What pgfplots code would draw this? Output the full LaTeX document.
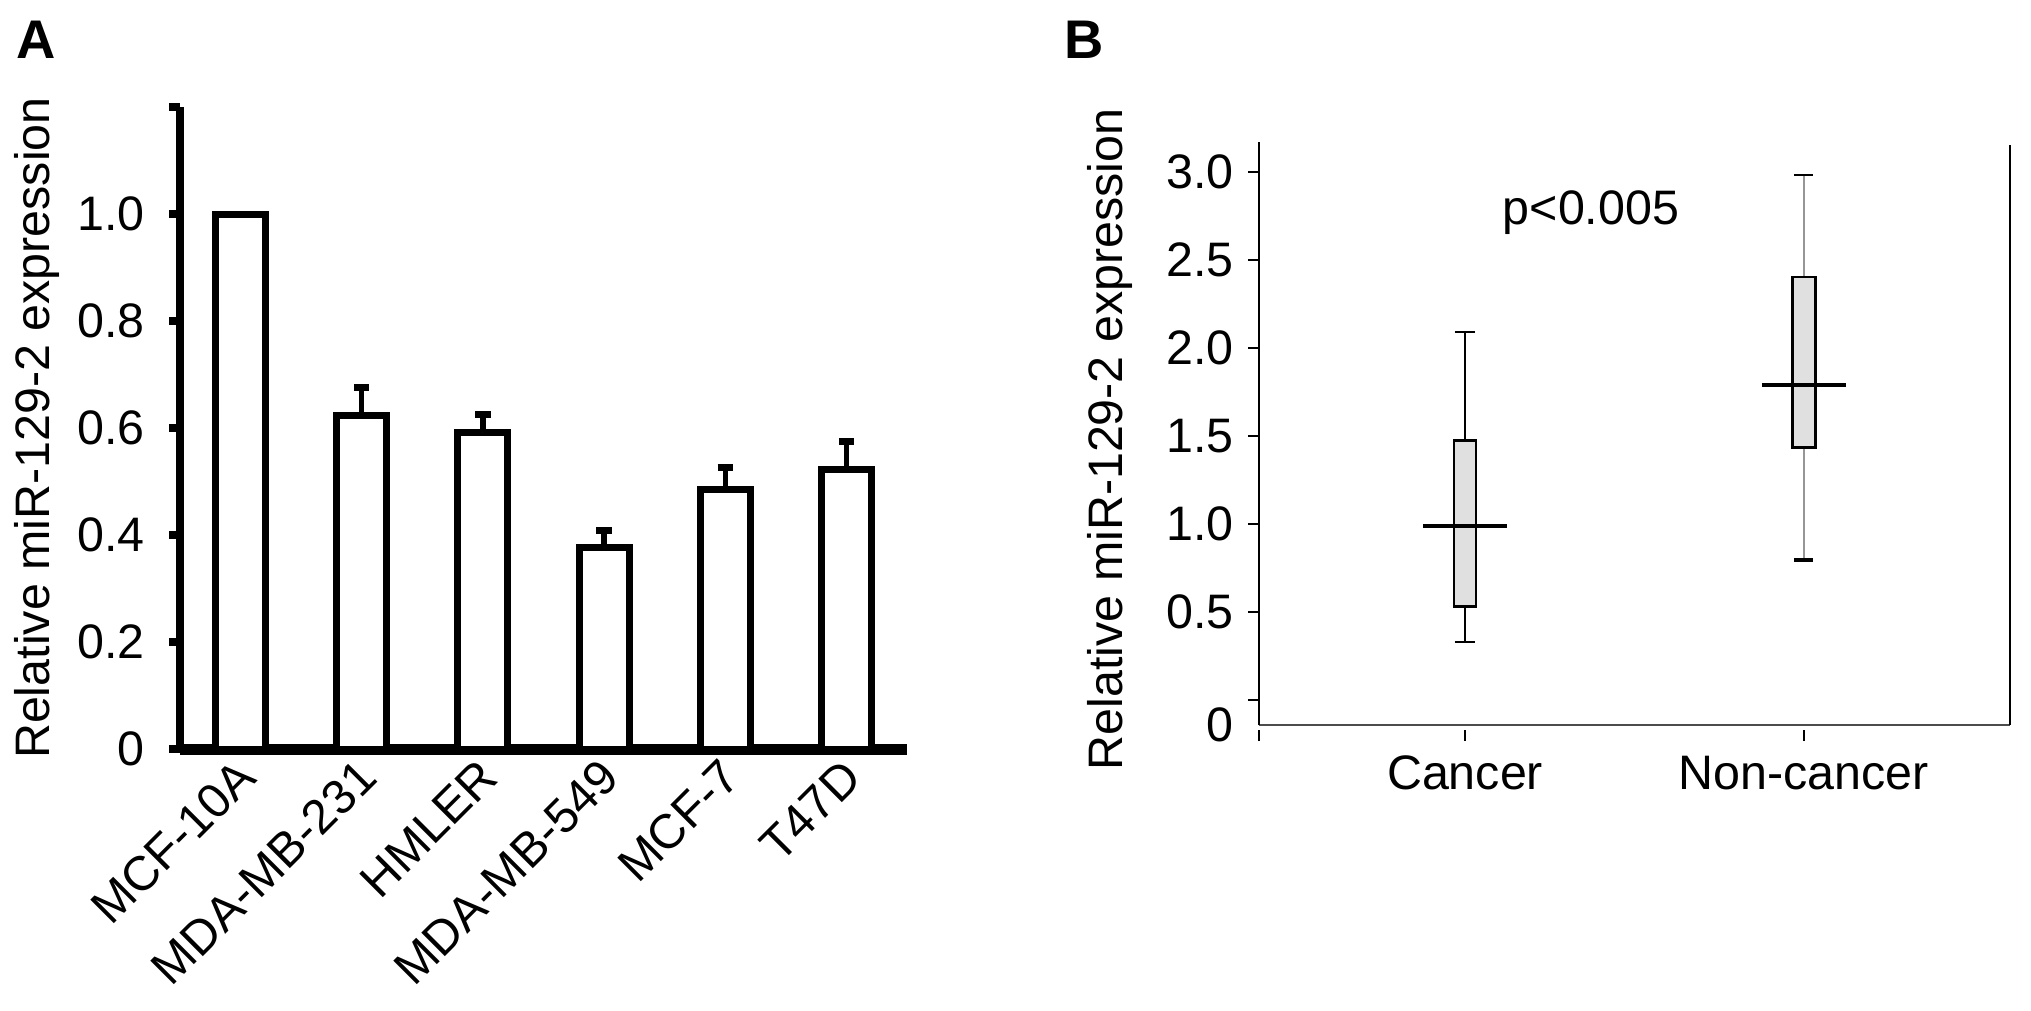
\documentclass[border=0pt]{standalone}
\usepackage{pgfplots}
\pgfplotsset{compat=1.18}
\usepgfplotslibrary{statistics}
\usepackage{fontspec}
\setmainfont{Liberation Sans}
\definecolor{boxgray}{RGB}{224,224,224}
\definecolor{whgray}{RGB}{150,150,150}

\pgfplotstableread{
x y e
0 1.000 0.000
1 0.623 0.052
2 0.592 0.033
3 0.377 0.032
4 0.486 0.040
5 0.522 0.052
}\barsA

\begin{document}
\begin{tikzpicture}
\useasboundingbox (0,0) rectangle (507.75pt,252.5pt);
\fill[white] (0,0) rectangle (507.75pt,252.5pt);

% ---------------- Panel A ----------------
\begin{axis}[
  at={(45pt,65.25pt)}, anchor=south west,
  scale only axis, width=181.75pt, height=160.5pt,
  xmin=-0.5, xmax=5.5, ymin=0, ymax=1.2,
  axis x line=bottom, axis y line=left,
  x axis line style={-, line width=2.75pt},
  y axis line style={-, line width=2pt},
  tick align=outside, major tick length=2.75pt,
  ytick={0,0.2,0.4,0.6,0.8,1.0,1.2},
  yticklabels={0,0.2,0.4,0.6,0.8,1.0,},
  yticklabel style={xshift=-2.5pt},
  ytick style={line width=2pt, black},
  xtick={0,1,2,3,4,5},
  xticklabels={MCF-10A,MDA-MB-231,HMLER,MDA-MB-549,MCF-7,T47D},
  xtick style={draw=none},
  xticklabel style={rotate=45, anchor=east, xshift=3pt, yshift=-2.5pt},
  font=\fontsize{12.1}{14.5}\selectfont,
  ylabel={Relative miR-129-2 expression},
  ylabel style={at={(axis description cs:-0.179,0.5)}, anchor=base},
  clip=false,
]
\addplot[ybar, bar width=12.5pt, draw=black, fill=white, line width=1.75pt,
  error bars/.cd, y dir=plus, y explicit, error mark=|,
  error bar style={line width=1.3pt},
  error mark options={line width=1.75pt, mark size=1.9pt}]
  table[x=x, y=y, y error=e] {\barsA};
\end{axis}

% ---------------- Panel B ----------------
\begin{axis}[
  at={(314.75pt,71.25pt)}, anchor=south west,
  scale only axis, width=187.75pt, height=145.75pt,
  xmin=0.392, xmax=2.608, ymin=-0.142, ymax=3.17,
  axis x line=bottom, axis y line=left,
  axis line style={-, line width=0.5pt},
  x axis line style={black!70},
  tick align=outside, major tick length=2.75pt,
  ytick={0,0.5,1,1.5,2,2.5,3},
  yticklabels={,0.5,1.0,1.5,2.0,2.5,3.0},
  ytick style={line width=0.5pt, black},
  extra y ticks={-0.142}, extra y tick labels={0},
  extra y tick style={tick style={draw=none}},
  xtick={1,2}, xticklabels={Cancer,Non-cancer},
  xtick style={line width=0.6pt, black, yshift=-1.25pt},
  xticklabel style={yshift=-1.5pt},
  extra x ticks={0.392}, extra x tick labels={},
  extra x tick style={tick style={yshift=0pt}},
  font=\fontsize{12.1}{14.5}\selectfont,
  ylabel={Relative miR-129-2 expression},
  ylabel style={at={(axis description cs:-0.1824,0.49)}, anchor=base},
  clip=false,
  boxplot/draw direction=y,
]
\addplot[boxplot prepared={lower whisker=0.33, lower quartile=0.531,
    median=0.99, upper quartile=1.473, upper whisker=2.089,
    draw position=1, box extend=0.065, whisker extend=0.06,
    draw direction=y,
    every median/.style={draw=none},
    every whisker/.style={black, line width=0.6pt}},
  draw=black, fill=boxgray, line width=0.65pt] coordinates {};
\addplot[boxplot prepared={lower whisker=0.797, lower quartile=1.435,
    median=1.79, upper quartile=2.403, upper whisker=2.985,
    draw position=2, box extend=0.068, whisker extend=0,
    draw direction=y,
    every median/.style={draw=none},
    every whisker/.style={whgray, line width=0.4pt}},
  draw=black, fill=boxgray, line width=0.65pt] coordinates {};
% whisker caps of Non-cancer
\addplot[black, line width=0.5pt] coordinates {(1.972,2.985) (2.028,2.985)};
\addplot[black, line width=1.1pt] coordinates {(1.972,0.797) (2.028,0.797)};
% medians
\addplot[black, line width=0.9pt] coordinates {(0.876,0.99) (1.124,0.99)};
\addplot[black, line width=1.2pt] coordinates {(1.876,1.79) (2.124,1.79)};
% right frame line
\draw[line width=0.5pt] (rel axis cs:1,0) -- (rel axis cs:1,0.995);
\end{axis}

% panel letters and annotation
\node[anchor=base west, inner sep=0pt, font=\fontsize{13.6}{16}\selectfont\bfseries] at (4pt,238pt) {A};
\node[anchor=base west, inner sep=0pt, font=\fontsize{13.6}{16}\selectfont\bfseries] at (266pt,238pt) {B};
\node[anchor=base west, inner sep=0pt, font=\fontsize{12.1}{14.5}\selectfont] at (375.5pt,196.5pt) {p<0.005};
\end{tikzpicture}
\end{document}
